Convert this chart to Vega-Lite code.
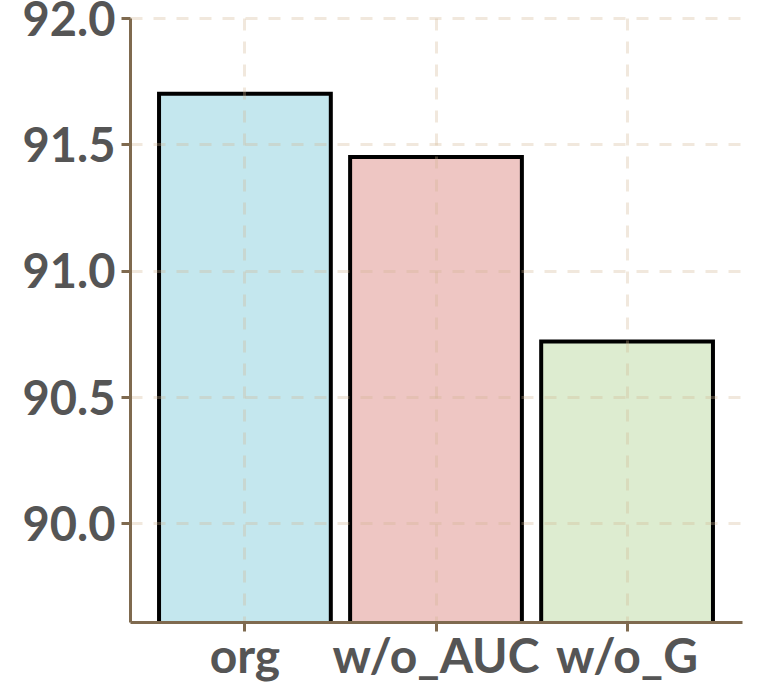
{
  "$schema": "https://vega.github.io/schema/vega-lite/v6.json",
  "autosize": "none",
  "padding": {"left": 130, "top": 18, "right": 17, "bottom": 78},
  "width": 612,
  "height": 604,
  "background": "white",
  "config": {"view": {"stroke": null}},
  "data": {"values": [
    {"method": "org", "score": 91.7},
    {"method": "w/o_AUC", "score": 91.45},
    {"method": "w/o_G", "score": 90.72}
  ]},
  "mark": {"type": "bar", "stroke": "black", "strokeWidth": 4, "clip": true},
  "encoding": {
    "x": {
      "field": "method", "type": "nominal", "sort": null,
      "scale": {"paddingInner": 0.101, "paddingOuter": 0.152},
      "axis": {
        "title": null, "labelAngle": 0, "labelFont": "Lato", "labelFontWeight": "bold",
        "labelFontSize": 48, "labelColor": "#555555", "labelPadding": 3, "labelLimit": 0,
        "labelOverlap": false, "labelBound": false, "labelFlush": false,
        "domainColor": "#7f6a4f", "domainWidth": 3,
        "tickColor": "#7f6a4f", "tickWidth": 3, "tickSize": 9,
        "grid": true, "gridColor": "#d1b290", "gridOpacity": 0.3, "gridWidth": 3,
        "gridDash": [12, 11], "bandPosition": 0.5, "zindex": 1
      }
    },
    "y": {
      "field": "score", "type": "quantitative",
      "scale": {"domain": [89.61, 92.0], "zero": false, "nice": false},
      "axis": {
        "title": null, "values": [90.0, 90.5, 91.0, 91.5, 92.0], "format": ".1f",
        "labelFont": "Lato", "labelFontWeight": "bold", "labelFontSize": 47,
        "labelColor": "#555555", "labelPadding": 6, "labelBound": false, "labelFlush": false,
        "labelOverlap": false, "labelLimit": 0, "labelOffset": 3,
        "domainColor": "#7f6a4f", "domainWidth": 3,
        "tickColor": "#7f6a4f", "tickWidth": 3, "tickSize": 9,
        "grid": true, "gridColor": "#d1b290", "gridOpacity": 0.3, "gridWidth": 3,
        "gridDash": [12, 11], "zindex": 1
      }
    },
    "color": {
      "field": "method", "type": "nominal", "sort": null,
      "scale": {"domain": ["org", "w/o_AUC", "w/o_G"], "range": ["#c4e7ee", "#eec6c3", "#ddecd0"]},
      "legend": null
    }
  }
}
